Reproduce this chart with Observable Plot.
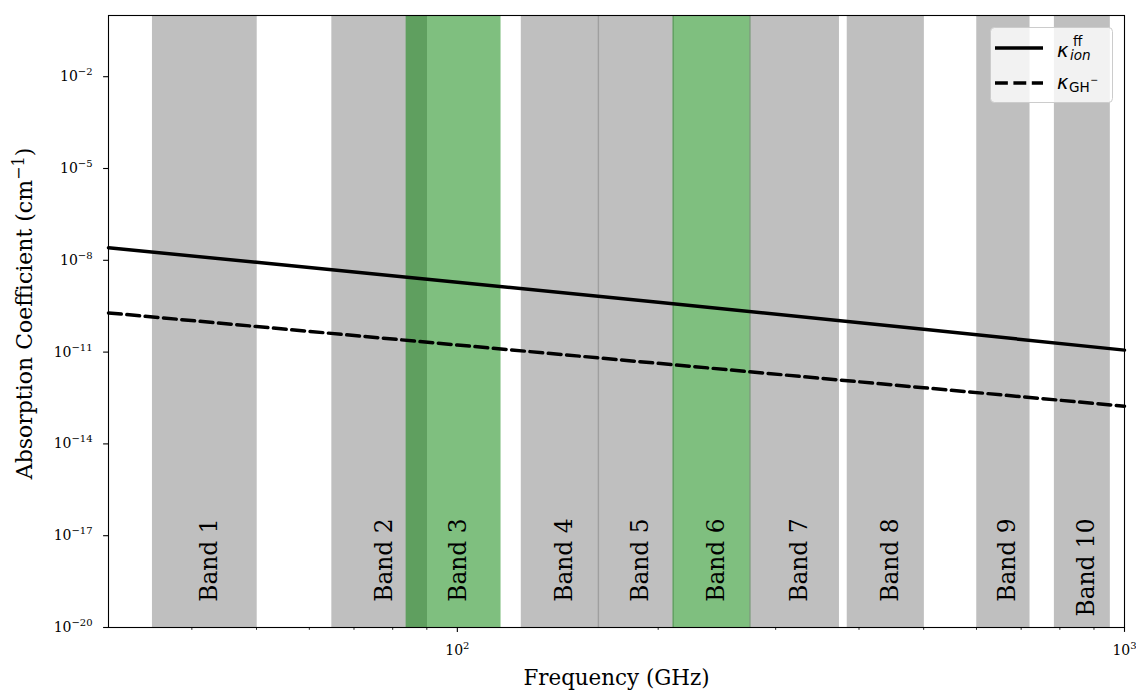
<!DOCTYPE html>
<html>
<head>
<meta charset="utf-8">
<script src="https://cdn.jsdelivr.net/npm/d3@7"></script>
<script src="https://cdn.jsdelivr.net/npm/@observablehq/plot@0.6"></script>
<style>
  html, body { margin: 0; padding: 0; background: #fff; }
  #chart { position: relative; width: 1136px; height: 691px; }
</style>
</head>
<body>
<div id="chart"></div>
<script>
// Absorption coefficients (cm^-1) sampled across the ALMA frequency range
const freqGHz = [30, 50, 100, 200, 500, 1000];
const kappaIon = [2.57e-8, 8.57e-9, 1.92e-9, 4.28e-10, 5.55e-11, 1.16e-11];
const kappaGH = [1.91e-10, 6.85e-11, 1.71e-11, 4.29e-12, 6.85e-13, 1.71e-13];

// ALMA receiver bands (GHz)
const bandNames = ["Band 1", "Band 2", "Band 3", "Band 4", "Band 5", "Band 6", "Band 7", "Band 8", "Band 9", "Band 10"];
const bandLow = [35, 65, 84, 125, 163, 211, 275, 385, 602, 787];
const bandHigh = [50, 90, 116, 163, 211, 275, 373, 500, 720, 950];
const highlightedBands = ["Band 3", "Band 6"];

// Axis ticks
const xMajorTicks = [100, 1000];
const xMinorTicks = [40, 50, 60, 70, 80, 90, 200, 300, 400, 500, 600, 700, 800, 900];
const yTicks = [1e-20, 1e-17, 1e-14, 1e-11, 1e-8, 1e-5, 1e-2];

const bands = bandNames.map((name, i) => ({name, lo: bandLow[i], hi: bandHigh[i]}));
const curves = freqGHz.map((f, i) => ({f, ion: kappaIon[i], gh: kappaGH[i]}));

const supChars = {"-": "\u207B", "0": "\u2070", "1": "\u00B9", "2": "\u00B2", "3": "\u00B3", "4": "\u2074",
  "5": "\u2075", "6": "\u2076", "7": "\u2077", "8": "\u2078", "9": "\u2079"};
const plainChars = {"\u207B": "\u2212"};
for (const [k, v] of Object.entries(supChars)) if (k !== "-") plainChars[v] = k;
const pow10 = d => "10" + String(Math.round(Math.log10(d))).replace(/./g, c => supChars[c]);

// Turn runs of Unicode superscript characters into raised, smaller tspans
function superscriptify(el, size, rise) {
  const s = el.textContent;
  const runs = [];
  for (const ch of s) {
    const sup = ch in plainChars;
    const last = runs[runs.length - 1];
    if (last && last.sup === sup) last.text += sup ? plainChars[ch] : ch;
    else runs.push({sup, text: sup ? plainChars[ch] : ch});
  }
  if (!runs.some(r => r.sup)) return;
  el.textContent = "";
  let raised = false;
  for (const r of runs) {
    const t = d3.select(el).append("tspan").text(r.text);
    if (r.sup) { t.attr("font-size", size).attr("dy", -rise); raised = true; }
    else if (raised) { t.attr("dy", rise); raised = false; }
  }
}

const serif = "DejaVu Serif";
const lw = 3.47;

const svg = Plot.plot({
  width: 1136,
  height: 691,
  marginLeft: 108,
  marginRight: 12,
  marginTop: 15,
  marginBottom: 64,
  style: {fontFamily: serif, fontSize: "14px", background: "white", color: "black"},
  x: {type: "log", domain: [30, 1000]},
  y: {type: "log", domain: [1e-20, 1]},
  color: {type: "identity"},
  marks: [
    Plot.rect(bands, {
      x1: "lo", x2: "hi",
      insetLeft: -0.7, insetRight: -0.7,
      fill: d => highlightedBands.includes(d.name) ? "green" : "gray",
      fillOpacity: 0.5
    }),
    Plot.text(bands, {
      x: d => Math.sqrt(d.lo * d.hi),
      text: "name",
      frameAnchor: "bottom",
      rotate: -90,
      textAnchor: "end",
      dx: 12,
      dy: -109,
      fontSize: 23.3,
      fontFamily: serif,
      fill: "black"
    }),
    Plot.line(curves, {x: "f", y: "ion", stroke: "black", strokeWidth: lw}),
    Plot.line(curves, {x: "f", y: "gh", stroke: "black", strokeWidth: lw, strokeDasharray: "12.85,5.55"}),
    Plot.axisX({ticks: xMinorTicks, tickSize: 2.8, tickFormat: () => "", strokeWidth: 0.85, label: null}),
    Plot.axisX({ticks: xMajorTicks, tickSize: 4.9, tickPadding: 13, tickFormat: pow10, strokeWidth: 1.1, fontSize: 14, label: null}),
    Plot.axisY({ticks: yTicks, tickSize: 4.9, tickPadding: 11, tickFormat: pow10, strokeWidth: 1.1, fontSize: 14, label: null}),
    Plot.text(["Frequency (GHz)"], {text: d => d, frameAnchor: "bottom", dy: 57.5, fontSize: 21.4, fontFamily: serif, fill: "black"}),
    Plot.text(["Absorption Coefficient (cm\u207B\u00B9)"], {
      text: d => d, frameAnchor: "left", textAnchor: "middle", rotate: -90,
      dx: -83.4, dy: -8, fontSize: 22, fontFamily: serif, fill: "black"
    }),
    Plot.frame({stroke: "black", strokeWidth: 1.1})
  ]
});

document.getElementById("chart").appendChild(svg);

// Exponents on the tick labels and the unit
d3.select(svg).selectAll("g[aria-label='x-axis tick label'] text, g[aria-label='y-axis tick label'] text")
  .each(function() { superscriptify(this, 10, 6); });
d3.select(svg).selectAll("text").filter(function() { return this.textContent.startsWith("Absorption"); })
  .each(function() { superscriptify(this, 16, 8.5); });

// Legend box in the upper-right corner of the axes
const legend = d3.select(svg).append("g")
  .attr("font-family", "DejaVu Sans").attr("fill", "black").attr("text-anchor", "start");
legend.append("rect")
  .attr("x", 990.5).attr("y", 27.5).attr("width", 122).attr("height", 75).attr("rx", 4)
  .attr("fill", "white").attr("fill-opacity", 0.8).attr("stroke", "#cccccc").attr("stroke-width", 1);
legend.append("line").attr("x1", 995).attr("x2", 1043).attr("y1", 48).attr("y2", 48)
  .attr("stroke", "black").attr("stroke-width", lw);
legend.append("line").attr("x1", 995).attr("x2", 1043).attr("y1", 83).attr("y2", 83)
  .attr("stroke", "black").attr("stroke-width", lw).attr("stroke-dasharray", "12.85,5.55");

const t1 = legend.append("text").attr("font-size", 19.4);
t1.append("tspan").attr("x", 1057).attr("y", 57).attr("font-style", "italic").text("\u03BA");
t1.append("tspan").attr("x", 1073).attr("y", 45.5).attr("font-size", 13.6).text("ff");
t1.append("tspan").attr("x", 1070).attr("y", 60).attr("font-size", 13.6).attr("font-style", "italic").text("ion");

const t2 = legend.append("text").attr("font-size", 19.4);
t2.append("tspan").attr("x", 1057).attr("y", 89).attr("font-style", "italic").text("\u03BA");
t2.append("tspan").attr("x", 1069).attr("y", 91.5).attr("font-size", 13.6).text("GH");
t2.append("tspan").attr("dx", 0.5).attr("y", 83).attr("font-size", 9.5).text("\u2212");
</script>
</body>
</html>
